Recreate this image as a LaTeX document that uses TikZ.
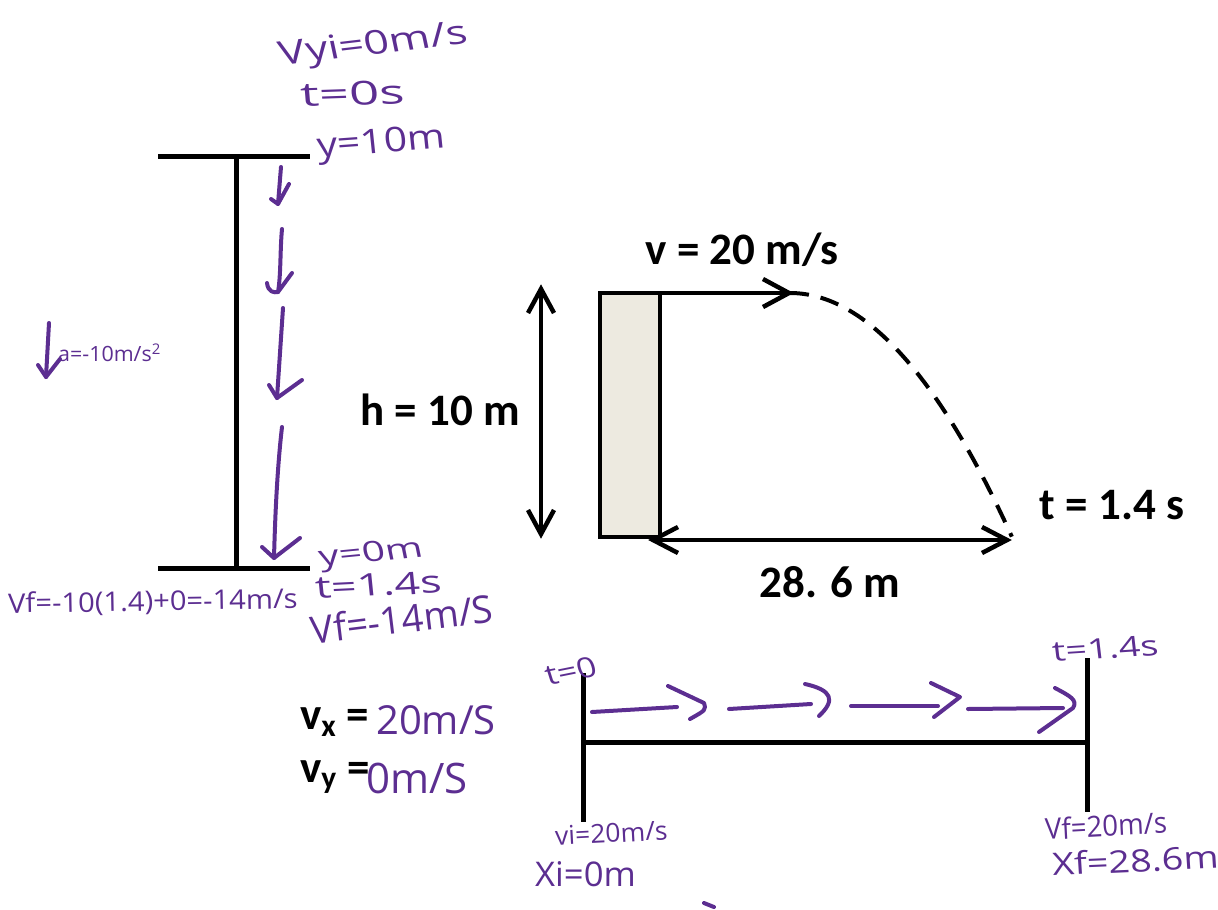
\documentclass[tikz,border=0pt]{standalone}
\usepackage{fontspec}
\setmainfont{Carlito}
\newfontfamily\hand{Open Sans}
\usetikzlibrary{arrows.meta}
\definecolor{ink}{RGB}{92,46,145}
\definecolor{wallfill}{RGB}{237,234,224}
\newcommand{\hs}[1]{\hand\fontsize{#1}{#1}\selectfont}
\begin{document}
\begin{tikzpicture}[x=1pt,y=-1pt,
  bar/.style={line width=5pt},
  boldtxt/.style={font=\fontsize{45}{48}\selectfont\bfseries, inner sep=0pt},
  hw/.style={ink, inner sep=0pt, anchor=west},
  pen/.style={ink, line width=4pt, line cap=round, line join=round},
  blk/.style={line width=4.5pt},
  chev/.style={line width=4.5pt, line join=miter}
]
\useasboundingbox (0,0) rectangle (1218,910);

% ---------- vertical drop diagram ----------
\coordinate (tl) at (158,156); \coordinate (tr) at (310,156);
\coordinate (bl) at (158,568); \coordinate (br) at (310,568);
\coordinate (tm) at (236,156); \coordinate (bm) at (236,568);
\draw[bar] (tl) -- (tr);
\draw[bar] (bl) -- (br);
\draw[bar] (tm) -- (bm);

% hand-drawn falling arrows
\coordinate (a1s) at (281,167); \coordinate (a1e) at (278,204);
\draw[pen] (a1s) -- (a1e) -- (271,199);
\draw[pen] (289,184) -- (a1e);
\coordinate (a2s) at (282,229); \coordinate (a2e) at (278,292);
\draw[pen] (a2s) .. controls (280,250) and (281,275) .. (a2e);
\draw[pen] (267,283) .. controls (268,292) and (274,293) .. (a2e) -- (292,273);
\coordinate (a3s) at (283,308); \coordinate (a3e) at (277,398);
\draw[pen] (a3s) -- (a3e);
\draw[pen] (269,385) -- (a3e) -- (302,380);
\coordinate (a4s) at (282,427); \coordinate (a4e) at (274,558);
\draw[pen] (a4s) .. controls (277,470) and (275,520) .. (a4e);
\draw[pen] (262,547) -- (a4e) -- (300,538);

\node[hw, font=\hs{33}, xscale=1.35, rotate=9] (vyi) at (280,57) {Vyi=0m/s};
\node[hw, font=\hs{33}, xscale=1.6, rotate=3] (t0) at (300,95) {t=0s};
\node[hw, font=\hs{34}, xscale=1.2, rotate=5] (y10) at (317,149) {y=10m};

\coordinate (aas) at (49,323); \coordinate (aae) at (46,377);
\draw[pen] (aas) -- (aae);
\draw[pen] (38,365) -- (aae) -- (60,359);
\node[hw, font=\hs{21}, xscale=1.02] (acc) at (58,353) {a=-10m/s\textsuperscript{2}};

\node[hw, font=\hs{28}, xscale=1.45, rotate=8] (y0) at (319,560) {y=0m};
\node[hw, font=\hs{31}, xscale=1.45, rotate=4] (t14) at (315,588) {t=1.4s};
\node[hw, font=\hs{38}, rotate=7] (vf14) at (311,630) {Vf=-14m/S};
\node[hw, font=\hs{27}, xscale=1.08, rotate=1] (vfcalc) at (8,605) {Vf=-10(1.4)+0=-14m/s};

% ---------- projectile diagram ----------
\draw[line width=3.5pt, fill=wallfill] (600,293) rectangle (660,537);
\coordinate (vs) at (640,293); \coordinate (ve) at (789,293);
\draw[blk] (vs) -- (ve);
\draw[chev] (763,279) -- (ve) -- (763,307);
\draw[line width=4pt, dash pattern=on 19pt off 12pt]
  plot[domain=0:1, samples=60] ({790+222*\x},{293+244*\x*\x});
\coordinate (ds) at (653,540); \coordinate (de) at (1007,540);
\draw[blk] (ds) -- (de);
\draw[chev] (678,527) -- (ds) -- (678,553);
\draw[chev] (982,527) -- (de) -- (982,553);
\coordinate (hs) at (541,289); \coordinate (he) at (541,534);
\draw[blk] (hs) -- (he);
\draw[chev] (528,313) -- (hs) -- (554,313);
\draw[chev] (528,510) -- (he) -- (554,510);

\node[boldtxt] (vlab) at (742,250) {v = 20 m/s};
\node[boldtxt] (hlab) at (440,410) {h = 10 m};
\node[boldtxt] (dlab) at (830,582) {28. 6 m};
\node[boldtxt] (tlab) at (1112,505) {t = 1.4 s};

% ---------- horizontal motion diagram ----------
\coordinate (l1) at (583,673); \coordinate (l2) at (583,822);
\coordinate (r1) at (1087,658); \coordinate (r2) at (1087,812);
\coordinate (hl) at (583,742); \coordinate (hr) at (1087,742);
\draw[bar] (l1) -- (l2);
\draw[bar] (r1) -- (r2);
\draw[bar] (hl) -- (hr);

\coordinate (p1s) at (592,712); \coordinate (p1e) at (677,707);
\draw[pen] (p1s) -- (p1e);
\draw[pen] (668,686) -- (704,703) .. controls (706,710) .. (690,719);
\coordinate (p2s) at (729,709); \coordinate (p2e) at (811,704);
\draw[pen] (p2s) -- (p2e);
\draw[pen] (805,684) .. controls (832,690) and (836,700) .. (819,716);
\coordinate (p3s) at (851,706); \coordinate (p3e) at (938,706);
\draw[pen] (p3s) -- (p3e);
\draw[pen] (931,683) -- (960,697) -- (934,717);
\coordinate (p4s) at (968,709); \coordinate (p4e) at (1063,708);
\draw[pen] (p4s) -- (p4e);
\draw[pen] (1055,688) .. controls (1070,696) and (1078,700) .. (1073,708) -- (1039,732);

\node[hw, font=\hs{28}, xscale=1.25, rotate=14] (tz) at (545,676) {t=0};
\node[hw, font=\hs{28}, xscale=1.35, rotate=5] (tf) at (1052,652) {t=1.4s};
\node[hw, font=\hs{26}, xscale=1.02, rotate=3] (vi) at (555,836) {vi=20m/s};
\node[hw, font=\hs{34}, xscale=1.02] (xi) at (535,874) {Xi=0m};
\node[hw, font=\hs{29}, xscale=0.95, rotate=3] (vfr) at (1045,829) {Vf=20m/s};
\node[hw, font=\hs{31}, xscale=1.22, rotate=3] (xf) at (1052,864) {Xf=28.6m};
\coordinate (m1) at (704,903); \coordinate (m2) at (714,907);
\draw[pen] (m1) -- (m2);

\node[boldtxt, anchor=west] (vxl) at (300,722) {v\textsubscript{x} =};
\node[hw, font=\hs{40}] (vxv) at (376,720) {20m/S};
\node[boldtxt, anchor=west] (vyl) at (300,777) {v\textsubscript{y} =};
\node[hw, font=\hs{42}] (vyv) at (366,778) {0m/S};
\end{tikzpicture}
\end{document}
